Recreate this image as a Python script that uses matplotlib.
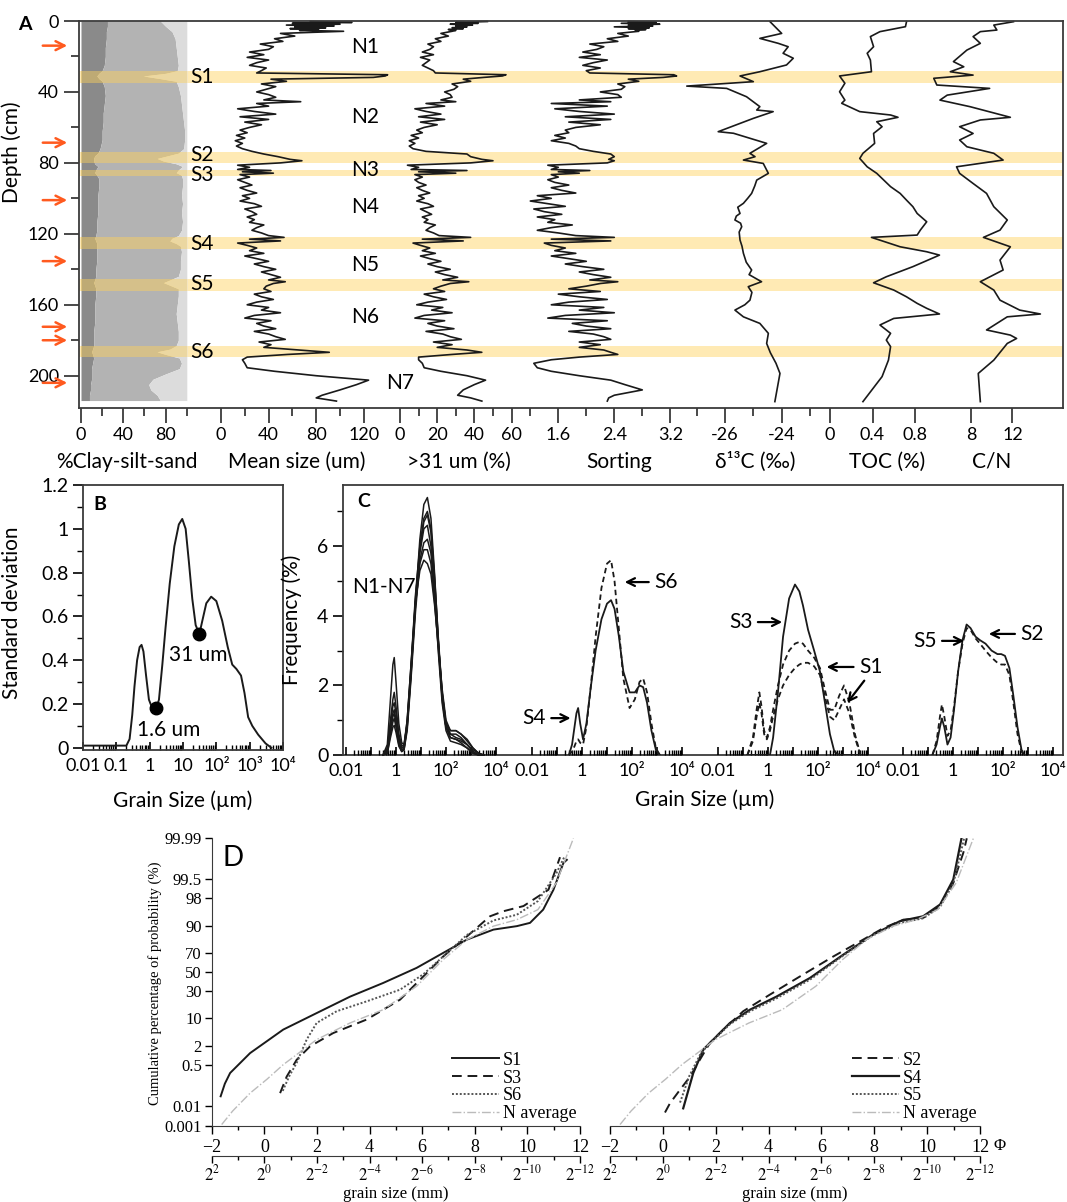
import math
import numpy as np
import matplotlib
matplotlib.use("Agg")
import matplotlib.pyplot as plt
from matplotlib.ticker import LogLocator, NullFormatter

plt.rcParams['font.family'] = ['Lato', 'DejaVu Sans']
plt.rcParams['mathtext.fontset'] = 'stix'

SERIF = 'Liberation Serif'

# ---------------- panel A data ----------------
band_top = [28.2, 74.0, 84.0, 122.0, 145.6, 183.3]
band_bot = [35.1, 80.2, 87.2, 128.6, 152.2, 189.6]
band_names = ['S1', 'S2', 'S3', 'S4', 'S5', 'S6']
band_label_depth = [31.6, 75.6, 86.8, 125.7, 148.3, 186.6]

unit_names = ['N1', 'N2', 'N3', 'N4', 'N5', 'N6', 'N7']
unit_depth = [14.7, 54.1, 84.0, 104.9, 137.6, 166.9, 204.1]

arrow_depth = [13.9, 68.6, 101.0, 135.4, 172.4, 180.0, 204.0]

# clay / silt / sand (%)
csd_depth = [0, 3, 6, 10, 15, 20, 25, 28, 29.5, 31, 32.5, 34, 37, 42, 47, 52, 57, 62, 67, 72,
             74.5, 76, 77.5, 79, 80.5, 82, 84, 85.5, 87, 89, 93, 98, 103, 108, 113, 118, 121, 122.5,
             124, 125.5, 127, 130, 135, 140, 144, 146, 147.5, 149, 151, 155, 160, 165, 170, 175,
             180, 183, 185, 186.5, 188, 190, 193, 196, 199, 202, 205, 208, 211, 214]
clay_pct = [25, 25, 24, 24, 23, 23, 22, 20, 17, 15, 17, 20, 22, 23, 22, 21, 21, 20, 20, 18,
            16, 13, 12, 12, 13, 16, 14, 13, 15, 17, 17, 16, 16, 16, 15, 15, 14, 13,
            14, 15, 15, 15, 15, 14, 14, 13, 12, 13, 14, 14, 13, 13, 13, 12,
            12, 12, 11, 10, 11, 12, 11, 10, 10, 10, 9, 9, 8, 8]
clay_silt_pct = [75, 80, 86, 89, 90, 91, 92, 91, 80, 59, 75, 90, 92, 94, 95, 96, 97, 98, 98, 97,
                 92, 82, 72, 78, 90, 96, 92, 90, 95, 96, 96, 95, 96, 95, 96, 95, 92, 86,
                 84, 90, 94, 95, 94, 94, 92, 84, 78, 84, 92, 92, 91, 90, 91, 92,
                 92, 90, 84, 72, 80, 93, 95, 93, 80, 68, 64, 66, 72, 75]

# grain-size samples
gs_depth = [0.3, 0.8, 1.3, 1.8, 2.3, 2.8, 3.3, 3.8, 4.3, 4.8, 5.3, 5.8,
            7, 8.5, 10, 11.5, 13, 14.5, 16, 17.5, 19, 20.5, 22, 23.5, 25, 26.5, 28, 29.3,
            30.3, 31, 31.8,
            32.8, 34, 35.5, 37, 38.5, 40, 41.5, 43, 44.5, 45.5, 46.5, 48, 49.5, 51, 52.5, 54, 55.5, 57, 58.5, 60,
            61.5, 63, 64.5, 66, 67.5, 69, 70.5, 72, 73.5, 75, 76.5, 78, 78.8, 80, 81.3, 82.5,
            83.7, 84.3, 85, 85.8, 86.6,
            88, 89.5, 91, 92.5, 94, 95.5, 97, 98.5, 100, 101.5, 103, 104.5, 106, 107.5, 109, 110.5, 112,
            113.5, 115, 116.5, 118, 119.5,
            121, 122, 123, 124, 125.2, 126.5, 128, 129.5, 131, 132.5, 134, 135.5, 137, 138.5, 140, 141.5,
            143, 144.5, 146, 147, 148, 149.5,
            151, 152.5, 154, 155.5, 157, 158.5, 160, 161.5, 163, 164.5, 166, 167.5, 169, 170.5, 172, 173.5,
            175, 176.5, 178, 179.5,
            181, 182.5, 184, 185.5, 186.8, 188, 189.5,
            191, 193, 195.5, 197.5, 200, 202.5, 205, 208, 211, 212.5, 214.3]
mean_size = [75, 110, 60, 100, 55, 95, 62, 88, 58, 82, 66, 103,
             50, 62, 45, 52, 33, 44, 40, 24, 36, 22, 40, 30, 24, 38, 34, 30,
             140, 138, 128,
             42, 55, 34, 46, 38, 30, 40, 46, 36, 67, 30, 40, 14, 28, 46, 16, 40, 20, 34, 24,
             16, 22, 13, 20, 12, 18, 13, 18, 26, 36, 48, 58, 68, 50, 14, 24,
             14, 42, 18, 44, 16,
             24, 14, 20, 26, 16, 22, 30, 18, 24, 16, 28, 34, 20, 26, 30, 22, 28, 24, 36, 30, 26, 34,
             40, 53, 24, 50, 14, 22, 30, 24, 36, 20, 30, 40, 28, 36, 46, 34, 42, 50, 40, 54, 44, 38,
             36, 42, 28, 34, 44, 30, 22, 40, 34, 50, 28, 20, 42, 30, 36, 46, 28, 40, 46, 54,
             32, 42, 36, 66, 91, 56, 22,
             18, 20, 22, 45, 80, 124, 114, 100, 85, 80, 97]
pct_31 = [47, 30, 42, 27, 39, 30, 36, 28, 34, 26, 30, 28,
          22, 26, 19, 22, 15, 18, 16, 12, 18, 11, 16, 14, 12, 15, 18, 19,
          57, 55, 45,
          34, 38, 28, 31, 29, 24, 27, 28, 22, 30, 14, 24, 8, 14, 22, 10, 24, 11, 20, 13,
          9, 12, 6, 10, 5, 8, 5, 7, 14, 36, 38, 44, 50, 38, 4, 10,
          6, 36, 10, 30, 8,
          12, 8, 10, 14, 9, 12, 16, 10, 13, 9, 15, 18, 11, 14, 17, 12, 15, 13, 19, 16, 14, 18,
          21, 38, 12, 34, 7, 11, 16, 12, 19, 11, 16, 22, 15, 20, 27, 19, 24, 31, 23, 37, 27, 22,
          18, 24, 13, 18, 25, 15, 9, 23, 17, 28, 13, 8, 24, 15, 20, 29, 14, 23, 27, 33,
          18, 28, 20, 36, 44, 28, 10,
          10, 12, 13, 22, 36, 46, 40, 34, 31, 38, 44]
sorting = [2.6, 3.0, 2.5, 3.05, 2.6, 2.95, 2.4, 2.9, 2.6, 2.85, 2.7, 2.75,
           2.45, 2.6, 2.3, 2.45, 2.05, 2.25, 2.15, 1.95, 2.2, 1.9, 2.3, 2.1, 1.95, 2.2, 2.0, 2.05,
           3.25, 3.29, 3.1,
           2.6, 2.75, 2.45, 2.55, 2.5, 2.2, 2.45, 2.5, 1.9, 2.35, 1.5, 2.3, 1.55, 1.9, 2.4, 1.7, 2.35, 1.75,
           2.2, 1.85,
           1.7, 1.75, 1.55, 1.7, 1.5, 1.75, 1.85, 1.9, 2.1, 2.35, 2.4, 2.32, 2.4, 2.3, 1.45, 1.6,
           1.5, 2.05, 1.6, 1.9, 1.5,
           1.6, 1.45, 1.55, 1.75, 1.5, 1.65, 1.85, 1.3, 1.5, 1.2, 1.45, 1.7, 1.25, 1.4, 1.65, 1.3, 1.55,
           1.45, 1.8, 1.5, 1.3, 1.6,
           1.85, 2.4, 1.5, 2.35, 1.4, 1.5, 1.7, 1.55, 1.85, 1.5, 1.75, 2.0, 1.7, 1.95, 2.25, 1.9, 2.1,
           2.35, 2.05, 2.45, 2.2, 2.0,
           1.75, 2.2, 1.6, 1.9, 2.3, 1.75, 1.5, 2.25, 1.9, 2.4, 1.7, 1.45, 2.3, 1.8, 2.0, 2.35, 1.75, 2.1,
           2.25, 2.35,
           1.9, 2.2, 1.9, 2.25, 2.35, 2.45, 1.9,
           1.5, 1.25, 1.3, 1.5, 1.9, 2.35, 2.55, 2.8, 2.4, 2.32, 2.3]

d13c_depth = [0.4, 7.0, 9.8, 12.6, 14.5, 18.2, 21.0, 24.8, 28.6, 31.0, 34.2, 36.7, 38.0, 42.7, 48.3, 50.2,
              51.1, 54.9, 62.4, 63.3, 69.0, 74.6, 76.5, 78.4, 80.3, 85.9, 89.7, 93, 97.2, 100, 102.8, 105,
              108.5, 110, 112.2, 114, 116.0, 119, 123.5, 127, 131.0, 136, 140.4, 143, 147.0, 149.8, 153,
              157.4, 160, 163.0, 166.8, 170.5, 176.1, 181.8, 187, 193, 198.7, 214.6]
d13c = [-24.41, -24.0, -24.77, -24.12, -23.77, -23.95, -23.59, -23.83, -24.77, -25.47, -25.0, -27.35,
        -25.94, -25.24, -24.77, -24.88, -24.3, -25.0, -26.24, -25.7, -24.53, -25.12, -24.94, -25.35,
        -24.65, -24.47, -24.88, -24.95, -25.06, -25.2, -25.35, -25.55, -25.47, -25.6, -25.65, -25.45,
        -25.41, -25.5, -25.47, -25.4, -25.35, -25.25, -25.06, -25.15, -24.71, -25.18, -25.05, -25.12,
        -25.3, -25.65, -25.35, -24.77, -24.47, -24.53, -24.4, -24.2, -24.06, -24.24]

toc_depth = [0.4, 3.2, 6.0, 8.8, 14.5, 18.2, 22.0, 28.6, 31.0, 35.1, 39.9, 44.6, 46.4, 51.1, 53.0, 54.3,
             56.8, 59.6, 63.4, 69.0, 74.6, 77.5, 82.2, 85.9, 93.4, 97.2, 101.0, 104.7, 108.5, 113.2, 117.9,
             120.7, 122.0, 127.3, 130.1, 132.0, 138.5, 144.2, 147.6, 151.7, 155.5, 159.2, 162.0, 165.2,
             167.7, 171.4, 176.1, 179.9, 183.6, 191.2, 200.5, 214.6]
toc = [0.72, 0.71, 0.47, 0.38, 0.41, 0.35, 0.38, 0.39, 0.09, 0.14, 0.09, 0.14, 0.11, 0.28, 0.57, 0.64,
       0.44, 0.49, 0.41, 0.42, 0.31, 0.28, 0.35, 0.44, 0.57, 0.66, 0.72, 0.78, 0.82, 0.91, 0.85,
       0.82, 0.39, 0.66, 0.91, 1.03, 0.78, 0.53, 0.41, 0.60, 0.72, 0.82, 0.91, 1.03,
       0.60, 0.47, 0.57, 0.53, 0.57, 0.55, 0.49, 0.31]

cn_depth = [0.4, 2.3, 5.1, 6.0, 8.8, 12.6, 16.4, 22.9, 25.8, 28.6, 30.5, 32.3, 36.1, 38.0, 41.8, 44.6,
            48.3, 54.3, 55.8, 59.6, 63.4, 67.1, 70.9, 74.6, 78.4, 82.2, 85.9, 91.6, 97.2, 104.7, 112.2,
            117.9, 122.0, 127.3, 134.8, 140.4, 147.0, 151.7, 157.4, 163.0, 165.2, 166.8, 174.2, 177.1,
            179.0, 181.8, 191.2, 198.7, 214.6]
cn = [12.1, 10.2, 10.5, 8.9, 8.2, 8.9, 7.6, 6.3, 7.3, 6.0, 8.2, 4.4, 4.7, 9.8, 5.7, 5.0,
      7.9, 11.8, 8.9, 6.9, 8.2, 6.9, 7.6, 10.2, 11.1, 6.6, 6.9, 8.2, 9.5, 10.2, 11.5,
      10.8, 9.2, 11.8, 10.8, 11.1, 8.9, 10.2, 10.8, 12.7, 14.7, 11.5, 9.5, 11.8,
      12.4, 11.5, 10.2, 8.7, 8.9]

# ---------------- panel B data ----------------
b_size = [0.01, 0.1, 0.2, 0.25, 0.3, 0.35, 0.42, 0.5, 0.57, 0.65, 0.78, 0.95, 1.2, 1.6, 1.9, 2.4, 3,
          4, 5.5, 7.5, 9.5, 12, 15, 19, 24, 31, 38, 50, 70, 100, 150, 220, 300, 400, 550, 700,
          900, 1200, 1800, 3000, 4500]
b_std = [0.01, 0.01, 0.01, 0.04, 0.15, 0.28, 0.40, 0.46, 0.47, 0.44, 0.33, 0.22, 0.18, 0.18, 0.22,
         0.38, 0.55, 0.75, 0.92, 1.02, 1.045, 1.0, 0.85, 0.68, 0.56, 0.52, 0.58, 0.66, 0.69, 0.67,
         0.58, 0.46, 0.38, 0.36, 0.33, 0.25, 0.14, 0.10, 0.06, 0.02, 0.0]
b_dot_size = [1.6, 31]
b_dot_std = [0.18, 0.52]

# ---------------- panel C data ----------------
n_bins = [0.3, 0.45, 0.6, 0.75, 0.85, 1.0, 1.3, 1.7, 2.1, 2.8, 4, 6, 9, 13, 18, 25, 35, 50, 70, 100,
          150, 250, 400, 700, 1200, 2000, 3200]
n_freq = {
    'N1': [0, 0.3, 1.6, 2.6, 2.8, 2.1, 0.9, 0.35, 0.3, 0.9, 2.4, 4.4, 6.2, 7.2, 7.4, 6.8, 5.2, 3.2, 1.6,
           0.8, 0.6, 0.6, 0.5, 0.3, 0.15, 0.05, 0],
    'N2': [0, 0.2, 1.0, 1.6, 1.8, 1.4, 0.6, 0.25, 0.3, 1.0, 2.6, 4.6, 6.0, 6.8, 7.0, 6.5, 5.1, 3.3, 1.8,
           0.9, 0.7, 0.7, 0.6, 0.45, 0.2, 0.05, 0],
    'N3': [0, 0.15, 0.9, 1.4, 1.5, 1.2, 0.5, 0.2, 0.25, 0.9, 2.5, 4.5, 5.9, 6.7, 6.9, 6.4, 5.0, 3.2, 1.7,
           0.8, 0.5, 0.45, 0.4, 0.3, 0.1, 0, 0],
    'N4': [0, 0.1, 0.8, 1.2, 1.3, 1.0, 0.4, 0.15, 0.2, 0.8, 2.3, 4.3, 5.8, 6.5, 6.6, 6.0, 4.6, 2.9, 1.5,
           0.7, 0.4, 0.35, 0.3, 0.2, 0.05, 0, 0],
    'N5': [0, 0.1, 0.7, 1.1, 1.2, 0.9, 0.35, 0.1, 0.15, 0.7, 2.2, 4.1, 5.6, 6.1, 6.2, 5.8, 4.7, 3.2, 1.8,
           0.9, 0.6, 0.5, 0.45, 0.3, 0.1, 0, 0],
    'N6': [0, 0.05, 0.6, 0.95, 1.05, 0.8, 0.3, 0.1, 0.15, 0.8, 2.4, 4.3, 5.5, 5.9, 5.9, 5.5, 4.4, 3.0, 1.7,
           0.8, 0.5, 0.45, 0.35, 0.2, 0.05, 0, 0],
    'N7': [0, 0.05, 0.5, 0.8, 0.85, 0.65, 0.25, 0.1, 0.2, 1.0, 2.6, 4.4, 5.3, 5.6, 5.5, 5.2, 4.3, 3.1, 1.9,
           1.0, 0.7, 0.7, 0.6, 0.4, 0.2, 0.05, 0],
}
g2_bins = [0.3, 0.4, 0.5, 0.6, 0.7, 0.85, 1.1, 1.5, 2.2, 3.5, 6, 10, 14.5, 20, 30, 45, 80, 130, 200, 280,
           400, 600, 900, 1300]
s4_freq = [0, 0.3, 0.8, 1.2, 1.35, 0.9, 0.45, 0.9, 1.9, 3.0, 3.9, 4.35, 4.45, 4.2, 3.4, 2.4, 1.8, 1.8,
           2.0, 1.95, 1.5, 0.7, 0.15, 0]
s6_freq = [0, 0.1, 0.25, 0.4, 0.45, 0.35, 0.3, 0.8, 1.9, 3.4, 4.8, 5.5, 5.6, 5.0, 3.6, 2.2, 1.35, 1.6,
           2.1, 2.2, 1.8, 0.9, 0.2, 0]
g3_bins = [0.15, 0.25, 0.35, 0.45, 0.55, 0.7, 0.9, 1.2, 1.6, 2.5, 4, 7, 12, 18, 25, 40, 70, 120, 200, 300,
           450, 700, 1100, 1800, 3000, 5000]
s3_freq = [0, 0, 0, 0, 0, 0, 0, 0, 0.5, 1.8, 3.4, 4.5, 4.9, 4.7, 4.3, 3.6, 3.0, 2.4, 1.4, 0.6, 0.1, 0,
           0, 0, 0, 0]
s1a_freq = [0, 0.5, 1.3, 1.8, 1.4, 0.7, 0.5, 0.8, 1.3, 2.0, 2.6, 3.0, 3.2, 3.25, 3.2, 3.0, 2.8, 2.5,
            1.8, 1.3, 1.3, 1.7, 2.0, 1.5, 0.6, 0]
s1b_freq = [0, 0.4, 1.1, 1.5, 1.2, 0.6, 0.45, 0.7, 1.1, 1.6, 2.0, 2.3, 2.5, 2.6, 2.65, 2.65, 2.55, 2.3,
            1.6, 1.1, 1.0, 1.3, 1.6, 1.2, 0.5, 0]
g4_bins = [0.15, 0.22, 0.3, 0.36, 0.45, 0.6, 0.8, 1.1, 1.6, 2.4, 3.5, 5, 8, 12, 20, 35, 60, 85, 120, 180,
           260, 380, 550, 700]
s5_freq = [0, 0.3, 0.8, 1.05, 0.8, 0.3, 0.5, 1.3, 2.4, 3.3, 3.75, 3.65, 3.4, 3.3, 3.2, 3.0, 2.9, 2.9,
           2.85, 2.5, 1.7, 0.8, 0.15, 0]
s2_freq = [0, 0.4, 1.1, 1.45, 1.1, 0.55, 0.7, 1.4, 2.4, 3.2, 3.65, 3.6, 3.35, 3.2, 3.0, 2.8, 2.65, 2.6,
           2.6, 2.3, 1.5, 0.6, 0.1, 0]

# ---------------- panel D data (phi, cumulative %) ----------------
d_s1 = [(-1.66, 0.029), (-1.5, 0.1), (-1.3, 0.26), (-0.54, 1.25), (0.72, 5.6), (1.99, 12.9), (3.26, 25),
        (4.52, 38.4), (5.79, 54.9), (6.8, 70.5), (7.7, 81.8), (8.71, 88.2), (9.6, 90), (10.1, 91.5),
        (10.6, 95.9), (10.99, 98.9), (11.37, 99.88), (11.5, 99.91)]
d_s3 = [(0.6, 0.04), (0.85, 0.19), (1.23, 0.76), (1.74, 2.0), (2.62, 4.6), (3.89, 9.5), (5.16, 22.4),
        (6.05, 45.6), (6.8, 67), (7.7, 84), (8.58, 94), (9.09, 95.5), (9.85, 96.7), (10.8, 98.9),
        (11.24, 99.93)]
d_s6 = [(0.7, 0.05), (0.95, 0.2), (1.23, 0.6), (1.61, 3.1), (1.99, 8), (2.75, 14), (3.89, 21),
        (5.16, 31.5), (6.05, 48), (6.8, 67), (7.7, 85), (8.71, 92.5), (9.6, 94.5), (10.4, 97.6),
        (11.1, 99.7), (11.4, 99.93)]
d_navg = [(-1.62, 0.0012), (-1.2, 0.006), (-0.54, 0.04), (0.1, 0.15), (0.72, 0.52), (1.99, 3.1),
          (3.26, 8), (4.52, 15), (5.79, 35), (6.8, 63.8), (7.7, 81.8), (8.71, 90), (9.6, 92.8),
          (10.4, 95.9), (11.1, 99.35), (11.75, 99.99)]
d_s2 = [(0.08, 0.005), (0.27, 0.014), (0.65, 0.056), (1.03, 0.19), (1.4, 0.76), (1.78, 2.5), (2.29, 5.6),
        (3.04, 14), (4.05, 26.8), (5.31, 47.6), (6.45, 67), (7.58, 81.8), (8.34, 89), (9.1, 92.8),
        (9.86, 93.5), (10.49, 96.7), (10.99, 99.35), (11.37, 99.955), (11.5, 99.99)]
d_s4 = [(0.77, 0.008), (1.15, 0.26), (1.53, 1.6), (1.91, 3.1), (2.54, 8), (3.3, 15), (4.3, 25),
        (5.57, 43.8), (6.83, 68.8), (7.96, 85.3), (8.97, 92.2), (9.85, 94), (10.49, 97), (10.99, 99.5),
        (11.3, 99.99)]
d_s5 = [(0.65, 0.015), (1.0, 0.2), (1.45, 1.3), (1.91, 3.0), (2.54, 7.5), (3.3, 14), (4.3, 23.5),
        (5.57, 42), (6.83, 68), (7.96, 85), (8.97, 91.5), (9.85, 93.3), (10.49, 96.5), (10.99, 99.3),
        (11.4, 99.99)]
prob_ticks = [0.001, 0.01, 0.5, 2, 10, 30, 50, 70, 90, 98, 99.5, 99.99]
prob_labels = ['0.001', '0.01', '0.5', '2', '10', '30', '50', '70', '90', '98', '99.5', '99.99']

# ---------------- figure ----------------
W, H = 1067, 1202
fig = plt.figure(figsize=(W / 100, H / 100), dpi=100)
INK = '#1a1a1a'
SPINE = '#3a3a3a'
BAND = '#FFD25A'


def add_px_axes(left, top, right, bottom):
    return fig.add_axes([left / W, 1 - bottom / H, (right - left) / W, (bottom - top) / H])


A_TOP, A_BOT = 21, 408
DEPTH_LIM = (218.2, 0)

ax_band = add_px_axes(79, A_TOP, 1063, A_BOT)
ax_band.set_zorder(0)
ax_band.set_xlim(0, 1)
ax_band.set_ylim(*DEPTH_LIM)
ax_band.axis('off')
for t, b in zip(band_top, band_bot):
    ax_band.axhspan(t, b, color=BAND, alpha=0.45, lw=0)


def make_track(left, right, xlim, major, labels, minor=()):
    a = add_px_axes(left, A_TOP, right, A_BOT)
    a.set_zorder(1)
    a.patch.set_visible(False)
    a.set_xlim(*xlim)
    a.set_ylim(*DEPTH_LIM)
    for s in a.spines.values():
        s.set_visible(False)
    a.set_yticks([])
    a.set_xticks(major, labels=labels)
    a.set_xticks(list(minor), minor=True)
    a.tick_params(axis='x', which='major', direction='out', length=11, width=1.3,
                  labelsize=13, pad=3, color=SPINE)
    a.tick_params(axis='x', which='minor', direction='out', length=6, width=1.3, color=SPINE)
    return a


t_cs = make_track(81, 186.8, (0, 100), [0, 40, 80], ['0', '40', '80'], [20, 60, 100])
t_cs.fill_betweenx(csd_depth, 0, clay_pct, color='#8a8a8a', lw=0)
t_cs.fill_betweenx(csd_depth, clay_pct, clay_silt_pct, color='#b3b3b3', lw=0)
t_cs.fill_betweenx(csd_depth, clay_silt_pct, 100, color='#dcdcdc', lw=0)
for t, b in zip(band_top, band_bot):
    t_cs.axhspan(t, b, color=BAND, alpha=0.45, lw=0)

t_ms = make_track(221, 387.6, (0, 140), [0, 40, 80, 120], ['0', '40', '80', '120'], [20, 60, 100])
t_ms.plot(mean_size, gs_depth, color=INK, lw=1.2, clip_on=False)

t_31 = make_track(400, 511.6, (0, 60), [0, 20, 40, 60], ['0', '20', '40', '60'], [10, 30, 50])
t_31.plot(pct_31, gs_depth, color=INK, lw=1.2, clip_on=False)

t_so = make_track(523.3, 677.3, (1.1, 3.3), [1.6, 2.4, 3.2], ['1.6', '2.4', '3.2'], [1.2, 2.0, 2.8])
t_so.plot(sorting, gs_depth, color=INK, lw=1.2, clip_on=False)

t_c13 = make_track(682.5, 810, (-27.5, -23), [-26, -24], ['-26', '-24'], [-27, -25, -23])
t_c13.plot(d13c, d13c_depth, color=INK, lw=1.2, clip_on=False)

t_toc = make_track(830, 946.9, (0, 1.1), [0, 0.4, 0.8], ['0', '0.4', '0.8'])
t_toc.plot(toc, toc_depth, color=INK, lw=1.2, clip_on=False)

t_cn = make_track(929.6, 1043.5, (4, 15), [8, 12], ['8', '12'])
t_cn.plot(cn, cn_depth, color=INK, lw=1.2, clip_on=False)

ax_a = add_px_axes(79, A_TOP, 1063, A_BOT)
ax_a.set_zorder(2)
ax_a.patch.set_visible(False)
ax_a.set_xlim(0, 1)
ax_a.set_ylim(*DEPTH_LIM)
ax_a.set_xticks([])
ax_a.set_yticks([0, 40, 80, 120, 160, 200])
ax_a.set_yticks([20, 60, 100, 140, 180], minor=True)
ax_a.tick_params(axis='y', which='major', direction='out', length=11, width=1.3, labelsize=13, color=SPINE)
ax_a.tick_params(axis='y', which='minor', direction='out', length=6, width=1.3, color=SPINE)
for s in ax_a.spines.values():
    s.set_linewidth(1.3)
    s.set_color(SPINE)
ax_a.set_ylabel('Depth (cm)', fontsize=15)
ax_a.yaxis.set_label_coords(-0.058, 0.661)

ytr = ax_a.get_yaxis_transform()
for name, d in zip(band_names, band_label_depth):
    ax_a.text(0.125, d, name, transform=ytr, ha='center', va='center', fontsize=15)
for name, d in zip(unit_names, unit_depth):
    ax_a.text(0.326 if name == 'N7' else 0.291, d, name, transform=ytr, ha='center', va='center',
              fontsize=15)
for d in arrow_depth:
    ax_a.annotate('', xy=(70 / W, d), xytext=(40 / W, d),
                  xycoords=('figure fraction', 'data'), textcoords=('figure fraction', 'data'),
                  arrowprops=dict(arrowstyle='->', color='#ff5a1f', lw=1.8, mutation_scale=16),
                  annotation_clip=False)

fig.text(25 / W, 1 - 25 / H, 'A', ha='center', va='center', fontsize=14, fontweight='bold')
track_titles = ['%Clay-silt-sand', 'Mean size (um)', '>31 um (%)', 'Sorting', 'δ¹³C (‰)', 'TOC (%)', 'C/N']
track_title_x = [127, 297, 459, 619, 755, 887, 992]
for txt, x in zip(track_titles, track_title_x):
    fig.text(x / W, 1 - 462 / H, txt, ha='center', va='center', fontsize=15)

# ---------------- panel B ----------------
ax_b = add_px_axes(83, 485, 283, 750)
ax_b.set_xscale('log')
ax_b.set_xlim(0.01, 1e4)
ax_b.set_ylim(-0.01, 1.2)
ax_b.plot(b_size, b_std, color=INK, lw=1.4)
ax_b.plot(b_dot_size, b_dot_std, 'o', color='black', ms=9)
ax_b.set_xticks([1e-2, 1e-1, 1, 10, 1e2, 1e3, 1e4],
                labels=['0.01', '0.1', '1', '10', '10²', '10³', '10⁴'])
ax_b.xaxis.set_minor_locator(LogLocator(base=10, subs=np.arange(2, 10), numticks=20))
ax_b.xaxis.set_minor_formatter(NullFormatter())
ax_b.set_yticks([0, 0.2, 0.4, 0.6, 0.8, 1.0, 1.2], labels=['0', '0.2', '0.4', '0.6', '0.8', '1', '1.2'])
ax_b.set_yticks([0.1, 0.3, 0.5, 0.7, 0.9, 1.1], minor=True)
ax_b.tick_params(axis='x', which='major', direction='in', length=6, width=1.2, labelsize=13, pad=6)
ax_b.tick_params(axis='x', which='minor', direction='in', length=3.5, width=1.0)
ax_b.tick_params(axis='y', which='major', direction='out', length=7, width=1.2, labelsize=14)
ax_b.tick_params(axis='y', which='minor', direction='out', length=4, width=1.0)
for s in ax_b.spines.values():
    s.set_linewidth(1.3)
    s.set_color(SPINE)
ax_b.set_ylabel('Standard deviation', fontsize=15)
ax_b.yaxis.set_label_coords(-0.305, 0.517)
ax_b.text(0.5, -0.19, 'Grain Size (µm)', transform=ax_b.transAxes, ha='center', va='center', fontsize=15)
ax_b.text(0.05, 0.96, 'B', transform=ax_b.transAxes, ha='left', va='top', fontsize=14, fontweight='bold')
ax_b.text(0.43, 0.075, '1.6 um', transform=ax_b.transAxes, ha='center', va='center', fontsize=15)
ax_b.text(0.575, 0.36, '31 um', transform=ax_b.transAxes, ha='center', va='center', fontsize=15)

# ---------------- panel C ----------------
C_TOP, C_BOT = 485, 755
C_YLIM = (0, 7.76)
ax_c = add_px_axes(343, C_TOP, 1063, C_BOT)
ax_c.set_xlim(0, 1)
ax_c.set_ylim(*C_YLIM)
ax_c.set_xticks([])
ax_c.set_yticks([0, 2, 4, 6])
ax_c.set_yticks([1, 3, 5, 7], minor=True)
ax_c.tick_params(axis='y', which='major', direction='out', length=7, width=1.2, labelsize=14)
ax_c.tick_params(axis='y', which='minor', direction='out', length=4, width=1.0)
for s in ax_c.spines.values():
    s.set_linewidth(1.3)
    s.set_color(SPINE)
ax_c.set_ylabel('Frequency (%)', fontsize=15)
ax_c.yaxis.set_label_coords(-0.057, 0.5)
ax_c.text(0.02, 0.97, 'C', transform=ax_c.transAxes, ha='left', va='top', fontsize=14, fontweight='bold')

groups = []
for start in [346, 532, 718, 903]:
    g = add_px_axes(start, C_TOP, start + 150, C_BOT)
    g.patch.set_visible(False)
    for s in g.spines.values():
        s.set_visible(False)
    g.set_xscale('log')
    g.set_xlim(0.01, 1e4)
    g.set_ylim(*C_YLIM)
    g.set_yticks([])
    g.set_xticks([1e-2, 1e-1, 1, 10, 1e2, 1e3, 1e4], labels=['0.01', '', '1', '', '10²', '', '10⁴'])
    g.xaxis.set_minor_locator(LogLocator(base=10, subs=np.arange(2, 10), numticks=20))
    g.xaxis.set_minor_formatter(NullFormatter())
    g.tick_params(axis='x', which='major', direction='in', length=6, width=1.2, labelsize=13, pad=6)
    g.tick_params(axis='x', which='minor', direction='in', length=3.5, width=1.0)
    groups.append(g)

g1, g2, g3, g4 = groups
for name, freq in n_freq.items():
    g1.plot(n_bins, freq, color=INK, lw=1.1, clip_on=False)
g2.plot(g2_bins, s4_freq, color=INK, lw=1.3)
g2.plot(g2_bins, s6_freq, color=INK, lw=1.3, ls=(0, (3, 2)))
g3.plot(g3_bins, s3_freq, color=INK, lw=1.3)
g3.plot(g3_bins, s1a_freq, color=INK, lw=1.3, ls=(0, (3, 2)))
g3.plot(g3_bins, s1b_freq, color=INK, lw=1.3, ls=(0, (3, 2)))
g4.plot(g4_bins, s5_freq, color=INK, lw=1.3)
g4.plot(g4_bins, s2_freq, color=INK, lw=1.3, ls=(0, (3, 2)))

arrow_kw = dict(arrowstyle='->', color='black', lw=1.6, mutation_scale=14, shrinkA=2, shrinkB=0)
g1.text(0.32, 4.83, 'N1-N7', ha='center', va='center', fontsize=15)
g2.annotate('S6', xy=(51, 4.97), xytext=(2300, 4.97), ha='center', va='center', fontsize=15,
            arrowprops=arrow_kw, annotation_clip=False)
g2.annotate('S4', xy=(0.35, 1.06), xytext=(0.012, 1.06), ha='center', va='center', fontsize=15,
            arrowprops=arrow_kw, annotation_clip=False)
g3.annotate('S3', xy=(3.7, 3.82), xytext=(0.08, 3.82), ha='center', va='center', fontsize=15,
            arrowprops=arrow_kw, annotation_clip=False)
g3.annotate('S1', xy=(220, 2.53), xytext=(13000, 2.53), ha='center', va='center', fontsize=15,
            arrowprops=arrow_kw, annotation_clip=False)
g3.annotate('', xy=(1480, 1.5), xytext=(8300, 2.2), arrowprops=arrow_kw, annotation_clip=False)
g4.annotate('S5', xy=(2.8, 3.28), xytext=(0.074, 3.28), ha='center', va='center', fontsize=15,
            arrowprops=arrow_kw, annotation_clip=False)
g4.annotate('S2', xy=(27, 3.48), xytext=(1480, 3.48), ha='center', va='center', fontsize=15,
            arrowprops=arrow_kw, annotation_clip=False)
fig.text(705 / W, 1 - 800 / H, 'Grain Size (µm)', ha='center', va='center', fontsize=15)

# ---------------- panel D ----------------
_A = [-3.969683028665376e+01, 2.209460984245205e+02, -2.759285104469687e+02,
      1.383577518672690e+02, -3.066479806614716e+01, 2.506628277459239e+00]
_B = [-5.447609879822406e+01, 1.615858368580409e+02, -1.556989798598866e+02,
      6.680131188771972e+01, -1.328068155288572e+01]
_C = [-7.784894002430293e-03, -3.223964580411365e-01, -2.400758277161838e+00,
      -2.549732539343734e+00, 4.374664141464968e+00, 2.938163982698783e+00]
_D = [7.784695709041462e-03, 3.224671290700398e-01, 2.445134137142996e+00, 3.754408661907416e+00]
_erf = np.vectorize(math.erf)


def prob_fwd(pct):
    # percent -> standard normal quantile (Acklam's approximation)
    p = np.clip(np.asarray(pct, dtype=float) / 100.0, 1e-12, 1 - 1e-12)
    q = np.minimum(p, 1 - p)
    t = np.sqrt(-2 * np.log(q))
    tail = ((((((_C[0] * t + _C[1]) * t + _C[2]) * t + _C[3]) * t + _C[4]) * t + _C[5]) /
            ((((_D[0] * t + _D[1]) * t + _D[2]) * t + _D[3]) * t + 1))
    r = p - 0.5
    rr = r * r
    central = ((((((_A[0] * rr + _A[1]) * rr + _A[2]) * rr + _A[3]) * rr + _A[4]) * rr + _A[5]) * r /
               (((((_B[0] * rr + _B[1]) * rr + _B[2]) * rr + _B[3]) * rr + _B[4]) * rr + 1))
    return np.where(q < 0.02425, np.where(p < 0.5, tail, -tail), central)


def prob_inv(z):
    z = np.asarray(z, dtype=float)
    return 50.0 * (1.0 + _erf(z / math.sqrt(2)))


mm_labels = [r'$2^{2}$', r'$2^{0}$', r'$2^{-2}$', r'$2^{-4}$', r'$2^{-6}$', r'$2^{-8}$', r'$2^{-10}$',
             r'$2^{-12}$']
phi_major = [-2, 0, 2, 4, 6, 8, 10, 12]
phi_labels = ['\u22122', '0', '2', '4', '6', '8', '10', '12']
phi_minor = [-1, 1, 3, 5, 7, 9, 11]


def make_d(left, right, show_y):
    a = add_px_axes(left, 838.3, right, 1126)
    a.set_yscale('function', functions=(prob_fwd, prob_inv))
    a.set_ylim(0.001, 99.99)
    a.set_xlim(-2, 12)
    a.spines['top'].set_visible(False)
    a.spines['right'].set_visible(False)
    a.set_xticks(phi_major, labels=phi_labels)
    a.set_xticks(phi_minor, minor=True)
    a.tick_params(axis='x', which='major', direction='out', length=6, width=1.0, labelsize=13,
                  labelfontfamily=SERIF, pad=3)
    a.tick_params(axis='x', which='minor', direction='out', length=3, width=1.0)
    if show_y:
        a.set_yticks(prob_ticks, labels=prob_labels)
        a.yaxis.set_minor_locator(plt.NullLocator())
        a.tick_params(axis='y', which='major', direction='out', length=5, width=1.0, labelsize=12,
                      labelfontfamily=SERIF, pad=2)
    else:
        a.spines['left'].set_visible(False)
        a.set_yticks([])
        a.yaxis.set_minor_locator(plt.NullLocator())
    for s in a.spines.values():
        s.set_color(SPINE)
    sec = a.secondary_xaxis(-0.105, functions=(lambda x: x, lambda x: x))
    sec.set_xticks(phi_major, labels=mm_labels)
    sec.set_xticks(phi_minor, minor=True)
    sec.tick_params(axis='x', which='major', direction='out', length=5, width=1.0, labelsize=12,
                    labelfontfamily=SERIF, pad=1)
    sec.tick_params(axis='x', which='minor', direction='out', length=3, width=1.0)
    sec.spines['bottom'].set_color(SPINE)
    return a


def xy(pairs):
    arr = np.array(pairs, dtype=float)
    return arr[:, 0], arr[:, 1]


ax_d1 = make_d(211.7, 580, True)
ax_d1.plot(*xy(d_s1), color=INK, lw=1.4, label='S1')
ax_d1.plot(*xy(d_s3), color=INK, lw=1.4, ls=(0, (5, 3)), label='S3')
ax_d1.plot(*xy(d_s6), color='#555555', lw=1.4, ls=(0, (1, 1)), label='S6')
ax_d1.plot(*xy(d_navg), color='#bbbbbb', lw=1.0, ls='-.', label='N average')

ax_d2 = make_d(610, 980, False)
ax_d2.plot(*xy(d_s2), color=INK, lw=1.4, ls=(0, (5, 3)), label='S2')
ax_d2.plot(*xy(d_s4), color=INK, lw=1.6, label='S4')
ax_d2.plot(*xy(d_s5), color='#555555', lw=1.4, ls=(0, (1, 1)), label='S5')
ax_d2.plot(*xy(d_navg), color='#bbbbbb', lw=1.0, ls='-.', label='N average')

for a in (ax_d1, ax_d2):
    a.legend(loc='lower right', bbox_to_anchor=(1.0, 0.0), frameon=False,
             prop={'family': SERIF, 'size': 13}, handlelength=2.6, labelspacing=0.05,
             borderaxespad=0.1, handletextpad=0.2, borderpad=0.1)

fig.text(155 / W, 1 - 983 / H, 'Cumulative percentage of probability (%)', rotation=90,
         ha='center', va='center', fontsize=10.5, family=SERIF)
fig.text(396 / W, 1 - 1194 / H, 'grain size (mm)', ha='center', va='center', fontsize=12, family=SERIF)
fig.text(795 / W, 1 - 1194 / H, 'grain size (mm)', ha='center', va='center', fontsize=12, family=SERIF)
fig.text(1000 / W, 1 - 1146 / H, 'Φ', ha='center', va='center', fontsize=12, family=SERIF)
fig.text(233 / W, 1 - 858 / H, 'D', ha='center', va='center', fontsize=20)

fig.savefig('out.png', dpi=100)
